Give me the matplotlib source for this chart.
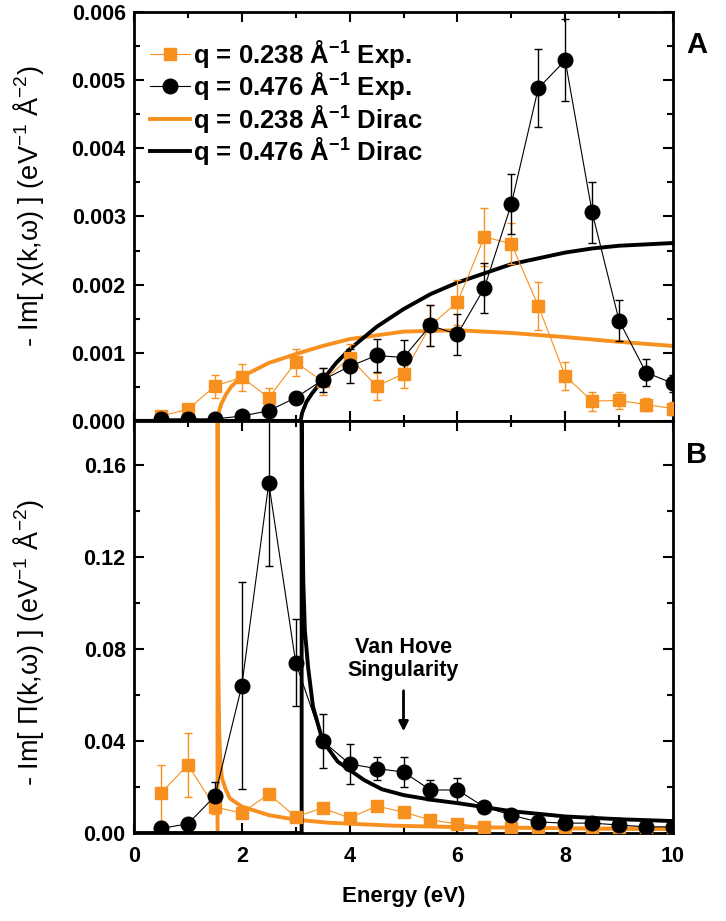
import matplotlib
matplotlib.use('Agg')
import matplotlib.pyplot as plt
from matplotlib.ticker import MultipleLocator

plt.rcParams['font.family'] = ['Liberation Sans', 'DejaVu Sans']
plt.rcParams['font.weight'] = 'bold'
plt.rcParams['mathtext.fontset'] = 'custom'
plt.rcParams['mathtext.rm'] = 'Liberation Sans:bold'
plt.rcParams['mathtext.it'] = 'Liberation Sans:bold'
plt.rcParams['mathtext.bf'] = 'Liberation Sans:bold'
plt.rcParams['mathtext.default'] = 'regular'

# measured points (eV)
energy = [0.5, 1.0, 1.5, 2.0, 2.5, 3.0, 3.5, 4.0, 4.5, 5.0,
          5.5, 6.0, 6.5, 7.0, 7.5, 8.0, 8.5, 9.0, 9.5, 10.0]

# panel A, -Im chi  (x 1e-3)
chi_238 = [0.07, 0.17, 0.51, 0.64, 0.34, 0.86, 0.58, 0.93, 0.51, 0.69,
           1.40, 1.74, 2.70, 2.60, 1.69, 0.66, 0.29, 0.30, 0.24, 0.18]
chi_238_err = [0.05, 0.06, 0.17, 0.20, 0.15, 0.20, 0.20, 0.20, 0.20, 0.20,
               0.30, 0.33, 0.42, 0.30, 0.35, 0.20, 0.14, 0.12, 0.10, 0.10]
chi_476 = [0.03, 0.03, 0.03, 0.07, 0.15, 0.34, 0.60, 0.80, 0.96, 0.93,
           1.40, 1.27, 1.95, 3.18, 4.88, 5.29, 3.06, 1.47, 0.71, 0.55]
chi_476_err = [0.02, 0.02, 0.02, 0.04, 0.06, 0.08, 0.18, 0.25, 0.24, 0.25,
               0.30, 0.30, 0.37, 0.44, 0.57, 0.60, 0.45, 0.30, 0.20, 0.12]

# panel B, -Im Pi
pi_238 = [0.0174, 0.0296, 0.0113, 0.0087, 0.0170, 0.0070, 0.0109, 0.0065, 0.0117, 0.0091,
          0.0057, 0.0040, 0.0027, 0.0020, 0.0017, 0.0015, 0.0014, 0.0013, 0.0012, 0.0012]
pi_238_err = [0.012, 0.014, 0.003, 0.002, 0.002, 0.0015, 0.0015, 0.0015, 0.0015, 0.0015,
              0.001, 0.001, 0.001, 0.001, 0.001, 0.001, 0.001, 0.001, 0.001, 0.001]
pi_476 = [0.002, 0.004, 0.016, 0.064, 0.152, 0.074, 0.040, 0.030, 0.028, 0.0265,
          0.0187, 0.0187, 0.0113, 0.0078, 0.0048, 0.0043, 0.0043, 0.0035, 0.0027, 0.0027]
pi_476_err = [0.001, 0.001, 0.006, 0.045, 0.036, 0.019, 0.0116, 0.0087, 0.005, 0.0065,
              0.0045, 0.005, 0.002, 0.0015, 0.001, 0.001, 0.001, 0.001, 0.001, 0.001]

# Dirac model curves
dchi_238_E = [0, 1.55, 1.58, 1.62, 1.7, 1.8, 2.0, 2.5, 3.0, 3.5, 4.0, 5.0, 6.0, 7.0, 8.0, 9.0, 10.0]
dchi_238 = [0, 0, 0.15, 0.25, 0.38, 0.50, 0.65, 0.85, 0.98, 1.10, 1.20, 1.31, 1.33, 1.29, 1.23, 1.16, 1.10]
dchi_476_E = [0, 3.09, 3.12, 3.2, 3.3, 3.5, 3.75, 4.0, 4.5, 5.0, 5.5, 6.0, 7.0, 8.0, 8.5, 9.0, 10.0]
dchi_476 = [0, 0, 0.12, 0.28, 0.40, 0.60, 0.85, 1.05, 1.38, 1.64, 1.86, 2.03, 2.30, 2.47, 2.53, 2.57, 2.61]

dpi_238_E = [0, 1.55, 1.55, 1.56, 1.58, 1.6, 1.63, 1.7, 1.78, 2.0, 2.5, 3.0, 3.6, 4.8, 6.0, 8.0, 10.0]
dpi_238 = [0, 0, 0.2, 0.08, 0.045, 0.032, 0.024, 0.019, 0.015, 0.0115, 0.0078, 0.0058, 0.0045,
           0.0032, 0.0026, 0.0021, 0.0018]
dpi_476_E = [0, 3.11, 3.11, 3.12, 3.14, 3.17, 3.23, 3.32, 3.5, 3.78, 4.27, 4.6, 5.0, 5.5, 6.0,
             7.0, 8.0, 9.0, 10.0]
dpi_476 = [0, 0, 0.2, 0.15, 0.11, 0.088, 0.072, 0.055, 0.040, 0.031, 0.023, 0.019, 0.0165,
           0.0145, 0.013, 0.0095, 0.0072, 0.006, 0.0052]

orange = '#F7901E'
scale = 1e-3

fig = plt.figure(figsize=(7.26, 9.21), dpi=100)
ax1 = fig.add_axes([0.1846, 0.543, 0.7424, 0.444])
ax2 = fig.add_axes([0.1846, 0.0955, 0.7424, 0.4475])


def style(ax):
    for s in ax.spines.values():
        s.set_linewidth(2)
    ax.tick_params(which='both', direction='in', top=True, right=True, width=1.5)
    ax.tick_params(which='major', length=7, labelsize=15.5, pad=6)
    ax.tick_params(which='minor', length=4)
    ax.tick_params(axis='x', which='major', pad=9)
    ax.xaxis.set_major_locator(MultipleLocator(2))
    ax.xaxis.set_minor_locator(MultipleLocator(1))
    ax.set_xlim(0, 10)


# ---- panel A
ax1.errorbar(energy, [v * scale for v in chi_238], yerr=[e * scale for e in chi_238_err],
             fmt='none', ecolor=orange, elinewidth=1, capsize=3, zorder=3)
ax1.errorbar(energy, [v * scale for v in chi_476], yerr=[e * scale for e in chi_476_err],
             fmt='none', ecolor='k', elinewidth=1, capsize=3, zorder=3)
l1, = ax1.plot(energy, [v * scale for v in chi_238], '-s', color=orange, lw=0.8, ms=9,
               label='q = 0.238 Å$^{-1}$ Exp.', zorder=4)
l2, = ax1.plot(energy, [v * scale for v in chi_476], '-o', color='k', lw=0.8, ms=10.5,
               label='q = 0.476 Å$^{-1}$ Exp.', zorder=4)
l3, = ax1.plot(dchi_238_E, [v * scale for v in dchi_238], color=orange, lw=2.8,
               label='q = 0.238 Å$^{-1}$ Dirac', zorder=2)
l4, = ax1.plot(dchi_476_E, [v * scale for v in dchi_476], color='k', lw=2.8,
               label='q = 0.476 Å$^{-1}$ Dirac', zorder=2)
style(ax1)
ax1.set_ylim(0, 0.006)
ax1.yaxis.set_major_locator(MultipleLocator(0.001))
ax1.yaxis.set_minor_locator(MultipleLocator(0.0005))
ax1.yaxis.set_major_formatter(plt.FormatStrFormatter('%.3f'))
ax1.tick_params(labelbottom=False)
ax1.set_ylabel('- Im[ χ(k,ω) ] (eV$^{-1}$ Å$^{-2}$)', fontsize=19.5, fontweight='normal')
ax1.yaxis.set_label_coords(-0.163, 0.526)
ax1.legend(handles=[l1, l2, l3, l4], loc='upper left', frameon=False, fontsize=18.5,
           handlelength=1.55, handletextpad=0.15, labelspacing=0.02,
           borderaxespad=0.0, bbox_to_anchor=(0.01, 0.962))

# ---- panel B
ax2.errorbar(energy, pi_238, yerr=pi_238_err, fmt='none', ecolor=orange,
             elinewidth=1, capsize=3, zorder=3)
ax2.errorbar(energy, pi_476, yerr=pi_476_err, fmt='none', ecolor='k',
             elinewidth=1, capsize=3, zorder=3)
ax2.plot(energy, pi_238, '-s', color=orange, lw=0.8, ms=9, zorder=4)
ax2.plot(energy, pi_476, '-o', color='k', lw=0.8, ms=10.5, zorder=4)
ax2.plot(dpi_238_E, dpi_238, color=orange, lw=2.8, zorder=2)
ax2.plot(dpi_476_E, dpi_476, color='k', lw=2.8, zorder=2)
style(ax2)
ax2.set_ylim(0, 0.179)
ax2.yaxis.set_major_locator(MultipleLocator(0.04))
ax2.yaxis.set_minor_locator(MultipleLocator(0.02))
ax2.yaxis.set_major_formatter(plt.FormatStrFormatter('%.2f'))
ax2.set_ylabel('- Im[ Π(k,ω) ] (eV$^{-1}$ Å$^{-2}$)', fontsize=19.5, fontweight='normal')
ax2.yaxis.set_label_coords(-0.163, 0.461)
ax2.set_xlabel('Energy (eV)', fontsize=16, fontweight='bold', labelpad=14)

ax2.text(5.0, 0.0755, 'Van Hove\nSingularity', ha='center', va='center',
         fontsize=15.5, fontweight='bold', linespacing=1.1)
ax2.annotate('', xy=(5.0, 0.043), xytext=(5.0, 0.063),
             arrowprops=dict(arrowstyle='-|>', color='k', lw=2, mutation_scale=14))

fig.text(0.96, 1 - 45 / 921, 'A', fontsize=21, fontweight='bold', ha='center', va='center')
fig.text(0.96, 1 - 455 / 921, 'B', fontsize=21, fontweight='bold', ha='center', va='center')

fig.savefig('out.png', dpi=100)
